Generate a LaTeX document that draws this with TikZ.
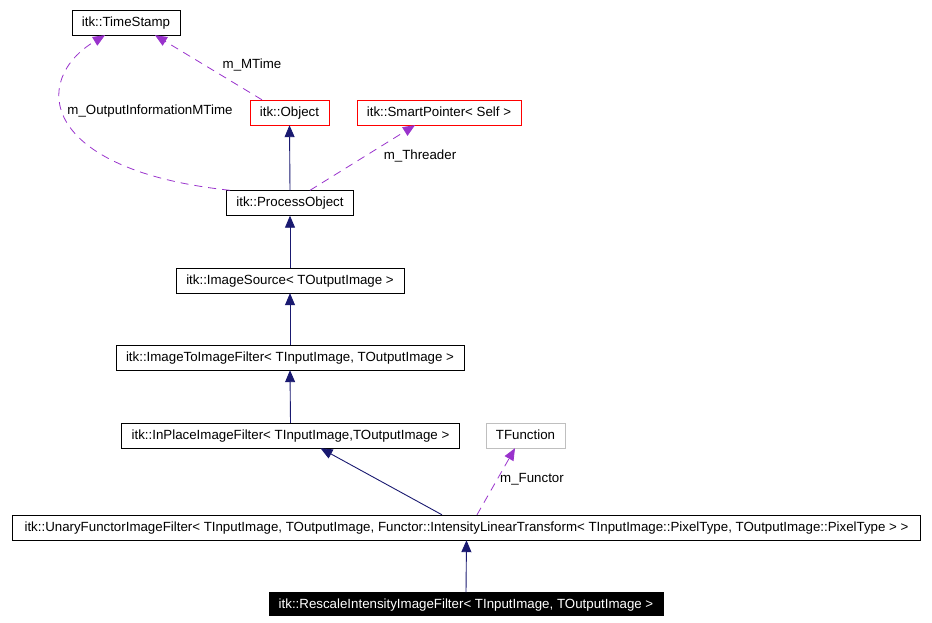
\documentclass[tikz,border=0pt]{standalone}
\usepackage{fontspec}
\setmainfont{Liberation Sans}
\usetikzlibrary{positioning, arrows.meta}

\definecolor{edgeblue}{RGB}{25,25,112}
\definecolor{edgepurple}{RGB}{153,50,204}
\definecolor{boxgray}{RGB}{191,191,191}

\tikzset{
    classbox/.style={
        draw=black,
        rectangle,
        fill=white,
        inner xsep=10pt,
        text height=9.5pt,
        text depth=1.5pt,
        minimum height=25pt,
        font=\fontsize{13.3}{15}\selectfont
    },
    inherit/.style={
        draw=edgeblue,
        line width=0.9pt,
        -{Triangle[length=12pt,width=10pt]}
    },
    uses/.style={
        draw=edgepurple,
        line width=0.8pt,
        dash pattern=on 8pt off 6pt,
        -{Triangle[length=12pt,width=10pt]}
    },
    edgelabel/.style={
        font=\fontsize{13.3}{15}\selectfont,
        inner sep=1pt
    }
}

\begin{document}
\begin{tikzpicture}[x=1pt, y=-1pt]
    \useasboundingbox (0,0) rectangle (932,623);

    % classes
    \node[classbox] (timestamp) at (126,22.5) {itk::TimeStamp};
    \node[classbox, draw=red] (object) at (289.5,112.5) {itk::Object};
    \node[classbox, draw=red] (smartptr) at (439,112.5) {itk::SmartPointer< Self >};
    \node[classbox] (process) at (290,203) {itk::ProcessObject};
    \node[classbox] (source) at (290,280.5) {itk::ImageSource< TOutputImage >};
    \node[classbox] (imagefilter) at (290,357.5) {itk::ImageToImageFilter< TInputImage, TOutputImage >};
    \node[classbox] (inplace) at (290.5,435.5) {itk::InPlaceImageFilter< TInputImage,TOutputImage >};
    \node[classbox, draw=boxgray] (tfunction) at (525.5,435.5) {TFunction};
    \node[classbox, inner xsep=12pt] (unary) at (466.5,527.5) {itk::UnaryFunctorImageFilter< TInputImage, TOutputImage, Functor::IntensityLinearTransform< TInputImage::PixelType, TOutputImage::PixelType > >};
    \node[classbox, fill=black, text=white, minimum height=23pt] (rescale) at (466,604) {itk::RescaleIntensityImageFilter< TInputImage, TOutputImage >};

    % inheritance
    \draw[inherit] (process.north) -- (object.south);
    \draw[inherit] (source.north) -- (process.south);
    \draw[inherit] (imagefilter.north) -- (source.south);
    \draw[inherit] (inplace.north) -- (imagefilter.south);
    \draw[inherit] ([xshift=-24.5pt]unary.north) -- ([xshift=30pt]inplace.south);
    \draw[inherit] (rescale.north) -- (unary.south);

    % members
    \draw[uses] ([xshift=-27.5pt]object.north) -- ([xshift=29pt]timestamp.south);
    \draw[uses] ([xshift=-60pt]process.north) .. controls (40,170) and (30,80) .. ([xshift=-21pt]timestamp.south);
    \draw[uses] ([xshift=20pt]process.north) -- ([xshift=-24pt]smartptr.south);
    \draw[uses] ([xshift=10.5pt]unary.north) -- ([xshift=-10.5pt]tfunction.south);

    \node[edgelabel] (lmtime) at (252,65) {m\_MTime};
    \node[edgelabel] (loutinfo) at (150,111) {m\_OutputInformationMTime};
    \node[edgelabel] (lthreader) at (420,156) {m\_Threader};
    \node[edgelabel] (lfunctor) at (532,479) {m\_Functor};
\end{tikzpicture}
\end{document}
